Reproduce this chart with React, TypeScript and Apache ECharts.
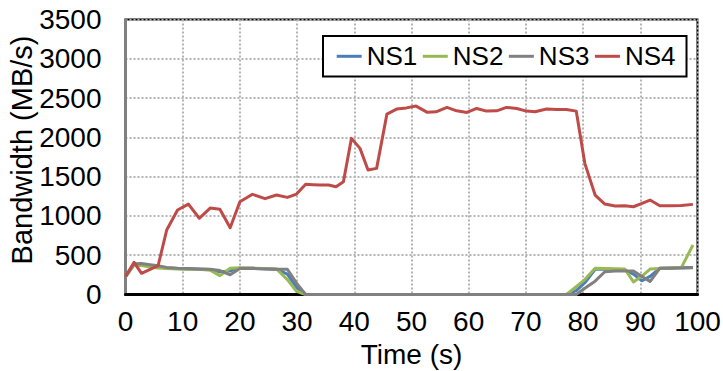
import React, { useEffect, useRef } from "react";
import * as echarts from "echarts";

// Time stamps (s) of the samples
const time = [
  0, 1.5, 2.8, 4.3, 5.7, 7.2, 9.1, 11.0, 12.9, 14.8, 16.5, 18.3, 20.0, 22.2, 24.4,
  26.4, 28.3, 29.9, 31.5, 32.8, 34.1, 35.5, 36.8, 38.1, 39.5, 41.0, 42.4, 43.9, 45.7,
  47.4, 49.1, 50.8, 52.7, 54.3, 56.2, 57.9, 59.7, 61.4, 63.1, 64.9, 66.6, 68.4, 70.1,
  71.6, 73.6, 75.4, 77.1, 78.8, 80.3, 82.1, 83.8, 85.6, 87.3, 88.8, 90.3, 91.7, 93.4,
  95.3, 97.2, 99.2,
];

const ns1 = [
  226, 385, 380, 365, 350, 338, 330, 326, 322, 318, 290, 300, 335, 333, 328,
  322, 260, 90, 0, 0, 0, 0, 0, 0, 0, 0, 0, 0, 0,
  0, 0, 0, 0, 0, 0, 0, 0, 0, 0, 0, 0, 0, 0,
  0, 0, 0, 0, 50, 150, 320, 320, 315, 310, 260, 175, 230, 333,
  336, 340, 343,
];

const ns2 = [
  226, 375, 370, 350, 338, 330, 325, 322, 320, 310, 240, 335, 340, 335, 330,
  325, 190, 40, 0, 0, 0, 0, 0, 0, 0, 0, 0, 0, 0,
  0, 0, 0, 0, 0, 0, 0, 0, 0, 0, 0, 0, 0, 0,
  0, 0, 0, 0, 100, 190, 333, 330, 328, 324, 160, 235, 324, 330,
  338, 346, 630,
];

const ns3 = [
  226, 390, 395, 380, 365, 345, 333, 330, 325, 322, 305, 250, 330, 333, 325,
  320, 320, 145, 0, 0, 0, 0, 0, 0, 0, 0, 0, 0, 0,
  0, 0, 0, 0, 0, 0, 0, 0, 0, 0, 0, 0, 0, 0,
  0, 0, 0, 0, 0, 80, 170, 290, 300, 300, 300, 230, 165, 333,
  335, 338, 341,
];

const ns4 = [
  230, 410, 270, 320, 366, 820, 1075, 1150, 970, 1100, 1085, 850, 1180, 1275, 1220,
  1266, 1236, 1278, 1402, 1398, 1393, 1393, 1371, 1435, 1987, 1860, 1584, 1605, 2296,
  2360, 2375, 2398, 2321, 2325, 2381, 2338, 2317, 2368, 2334, 2338, 2381, 2368, 2334,
  2325, 2360, 2355, 2355, 2334, 1669, 1266, 1151, 1126, 1130, 1117, 1160, 1202, 1130,
  1128, 1132, 1147,
];

const seriesNames = ["NS1", "NS2", "NS3", "NS4"];
const seriesValues = [ns1, ns2, ns3, ns4];
const seriesColors = ["#4a7ebb", "#98b954", "#808080", "#be4b48"];

const FONT = "'Liberation Sans', Arial, Helvetica, sans-serif";

export default function App() {
  const ref = useRef<HTMLDivElement>(null);

  useEffect(() => {
    if (!ref.current) return;
    const chart = echarts.init(ref.current, null, { renderer: "svg" });
    const gridLine = {
      show: true,
      lineStyle: { color: "#b3b3b3", width: 2, type: [2, 2] as any },
    };
    chart.setOption({
      animation: false,
      backgroundColor: "#ffffff",
      textStyle: { fontFamily: FONT },
      grid: {
        left: 125.5,
        right: 25.5,
        top: 19.5,
        bottom: 76.5,
        containLabel: false,
        outerBoundsMode: "none",
        show: true,
        borderColor: "#000000",
        borderWidth: 2,
        backgroundColor: "transparent",
      },
      legend: {
        data: seriesNames,
        left: 323,
        top: 36,
        orient: "horizontal",
        icon: "rect",
        itemWidth: 25,
        itemHeight: 3,
        itemGap: 5.5,
        padding: [7.3, 11, 7.3, 13.7],
        borderColor: "#000000",
        borderWidth: 2,
        backgroundColor: "#ffffff",
        textStyle: { fontSize: 26, color: "#000000", fontFamily: FONT },
      },
      xAxis: {
        type: "value",
        min: 0,
        max: 100,
        interval: 10,
        name: "Time (s)",
        nameLocation: "middle",
        nameGap: 37,
        nameTextStyle: { fontSize: 28, color: "#000000", fontFamily: FONT },
        axisLine: { show: true, onZero: false, lineStyle: { color: "#000000", width: 3 } },
        axisTick: { show: false },
        axisLabel: {
          fontSize: 28,
          color: "#000000",
          margin: 13,
          fontFamily: FONT,
          formatter: (v: number) => String(v),
        },
        splitLine: gridLine,
      },
      yAxis: {
        type: "value",
        min: 0,
        max: 3500,
        interval: 500,
        name: "Bandwidth (MB/s)",
        nameLocation: "middle",
        nameGap: 89,
        nameMoveOverlap: false,
        nameTextStyle: {
          fontSize: 29,
          color: "#000000",
          fontFamily: FONT,
          padding: [0, 0, 0, 14],
        },
        axisLine: { show: true, lineStyle: { color: "#808080", width: 3 } },
        axisTick: { show: false },
        axisLabel: {
          fontSize: 28,
          color: "#000000",
          margin: 24,
          fontFamily: FONT,
          formatter: (v: number) => String(v),
        },
        splitLine: gridLine,
      },
      series: seriesNames.map((name, k) => ({
        name,
        type: "line",
        data: time.map((t, i) => [t, seriesValues[k][i]]),
        showSymbol: false,
        symbol: "none",
        color: seriesColors[k],
        lineStyle: { color: seriesColors[k], width: 3, join: "round" },
        emphasis: { disabled: true },
      })),
    });
    return () => chart.dispose();
  }, []);

  return (
    <div
      ref={ref}
      style={{ position: "absolute", left: 0, top: 0, width: 723, height: 371 }}
    />
  );
}
